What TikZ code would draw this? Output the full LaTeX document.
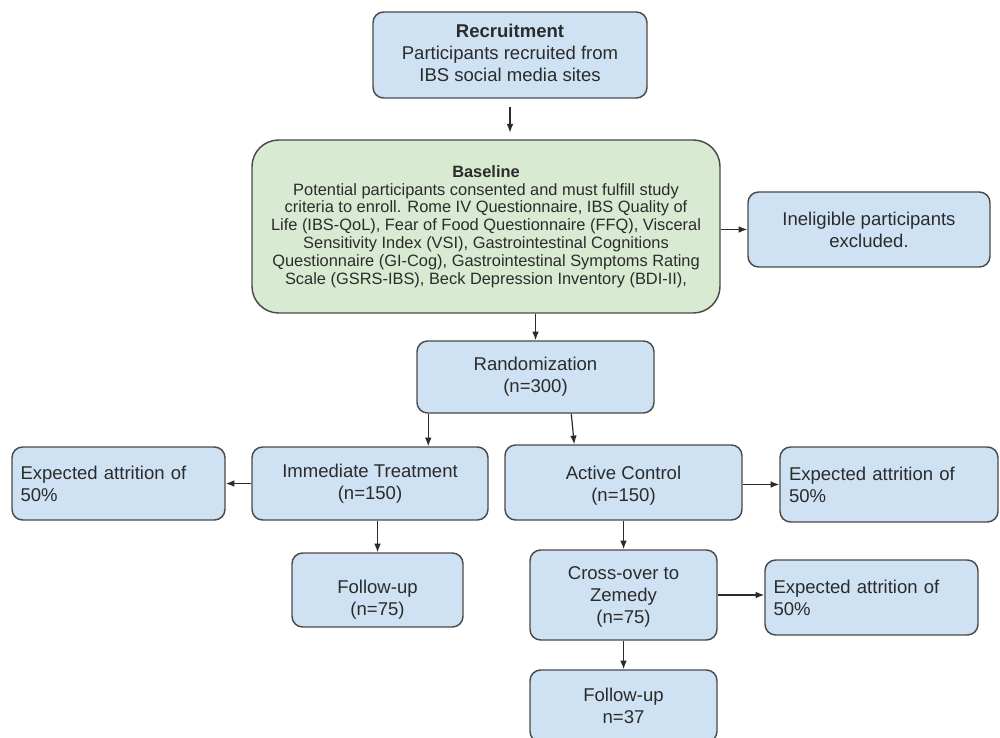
\documentclass[tikz,border=0pt]{standalone}
\usepackage{fontspec}
\setmainfont{Liberation Sans}
\usetikzlibrary{arrows.meta}
\definecolor{boxblue}{HTML}{CFE2F3}
\definecolor{boxgreen}{HTML}{D9EAD3}
\definecolor{edgegray}{HTML}{4A4A4A}
\definecolor{inkgray}{HTML}{2B2B2B}
% invisible struts that nudge the text block inside a box
\newcommand\padtop[1]{\rule{0pt}{#1}}
\newcommand\padbottom[1]{\rule[-#1]{0pt}{0pt}}
\tikzset{
  flowbox/.style={draw=edgegray, line width=1.1pt, fill=boxblue, rounded corners=8pt,
    align=center, text=inkgray, inner sep=0pt,
    font=\fontsize{13.9}{16.5}\selectfont},
  leftbox/.style={flowbox, align=left},
  greenbox/.style={flowbox, fill=boxgreen, rounded corners=20pt,
    font=\fontsize{12.3}{13.4}\selectfont},
  arr/.style={draw=inkgray, line width=0.9pt, -{Latex[length=6.5pt,width=5pt]}}
}
\begin{document}
\begin{tikzpicture}[x=0.75pt, y=-0.75pt]
\useasboundingbox (0,0) rectangle (1000,738);
\fill[white] (0,0) rectangle (1000,738);
\clip (0,0) rectangle (1000,738);

% boxes
\node[flowbox, minimum width=205.5pt, minimum height=64.5pt] (rec) at (510,55)
  {\textbf{Recruitment}\\Participants recruited from\\IBS social media sites\padbottom{4pt}};
\node[greenbox, minimum width=351pt, minimum height=129.75pt] (base) at (486,226.5)
  {\textbf{Baseline}\\
   Potential participants consented and must fulfill study\\
   criteria to enroll. Rome IV Questionnaire, IBS Quality of\\
   Life (IBS-QoL), Fear of Food Questionnaire (FFQ), Visceral\\
   Sensitivity Index (VSI), Gastrointestinal Cognitions\\
   Questionnaire (GI-Cog), Gastrointestinal Symptoms Rating\\
   Scale (GSRS-IBS), Beck Depression Inventory (BDI-II),};
\node[flowbox, minimum width=181.5pt, minimum height=56.25pt] (inel) at (869,229.5)
  {Ineligible participants\\excluded.};
\node[flowbox, minimum width=177.75pt, minimum height=54pt] (rand) at (535.5,377)
  {Randomization\\(n=300)};
\node[flowbox, minimum width=177pt, minimum height=54.75pt] (imm) at (370,483.5)
  {Immediate Treatment\\(n=150)};
\node[leftbox, minimum width=159.75pt, minimum height=54.75pt, text width=147pt, inner xsep=6.375pt]
  (attL) at (118.5,483.5) {Expected attrition of\\50\%};
\node[flowbox, minimum width=177.75pt, minimum height=56.25pt] (act) at (623.5,482.5)
  {\padtop{14.7pt}Active Control\\(n=150)};
\node[leftbox, minimum width=163.5pt, minimum height=56.25pt, text width=150pt, inner xsep=6.75pt]
  (attR) at (889,484.5) {Expected attrition of\\50\%};
\node[flowbox, minimum width=128.25pt, minimum height=55.5pt] (fu1) at (377.5,590)
  {\padtop{25pt}Follow-up\\(n=75)};
\node[flowbox, minimum width=140.25pt, minimum height=67.5pt] (cross) at (623.5,595)
  {\padtop{13.2pt}Cross-over to\\Zemedy\\(n=75)};
\node[leftbox, minimum width=159.75pt, minimum height=56.25pt, text width=147pt, inner xsep=6.375pt]
  (att3) at (871.5,597.5) {Expected attrition of\\50\%};
\node[flowbox, minimum width=140.25pt, minimum height=54pt] (fu2) at (623.5,706)
  {Follow-up\\n=37};

% connectors
\draw[arr, shorten <=6pt, shorten >=5pt] (rec.south) -- (rec.south |- base.north);
\draw[arr] (inel.west -| base.east) -- (inel.west);
\draw[arr] (rand.north |- base.south) -- (rand.north);
\draw[arr] ([xshift=9pt]rand.south west) -- ([xshift=9pt]rand.south west |- imm.north);
\draw[arr] ([xshift=116.25pt]rand.south west) -- ([xshift=52.5pt]act.north west);
\draw[arr] (imm.west) -- (attL.east);
\draw[arr] (attR.west -| act.east) -- (attR.west);
\draw[arr] (fu1.north |- imm.south) -- (fu1.north);
\draw[arr] (act.south) -- (cross.north);
\draw[arr] (cross.east) -- (cross.east -| att3.west);
\draw[arr] (cross.south) -- (fu2.north);
\end{tikzpicture}
\end{document}
